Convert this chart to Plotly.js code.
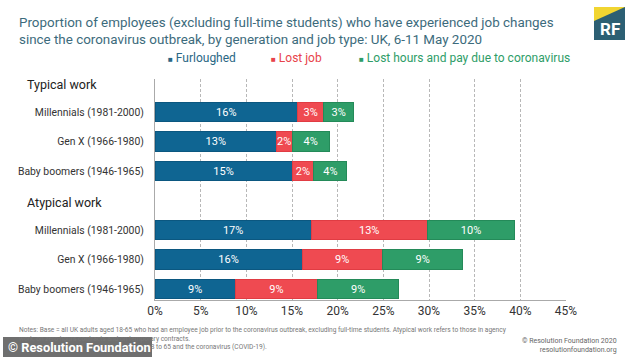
<!DOCTYPE html>
<html>
<head>
<meta charset="utf-8">
<script src="https://cdn.plot.ly/plotly-3.0.1.min.js"></script>
<style>html,body{margin:0;padding:0;background:#fff;}#chart{width:634px;height:357px;}</style>
</head>
<body>
<div id="chart"></div>
<script>
// ---- data ----
const groups = ["Typical work", "Atypical work"];
const generations = ["Millennials (1981-2000)", "Gen X (1966-1980)", "Baby boomers (1946-1965)"];
const seriesNames = ["Furloughed", "Lost job", "Lost hours and pay due to coronavirus"];
const furloughedTypical = [15.6, 13.3, 15.0];
const lostJobTypical = [2.9, 1.7, 2.4];
const lostHoursTypical = [3.2, 4.1, 3.6];
const furloughedAtypical = [17.1, 16.1, 8.8];
const lostJobAtypical = [12.7, 8.8, 9.0];
const lostHoursAtypical = [9.6, 8.8, 8.9];
const xTickVals = [0, 5, 10, 15, 20, 25, 30, 35, 40, 45];
const xTickText = ["0%", "5%", "10%", "15%", "20%", "25%", "30%", "35%", "40%", "45%"];

// ---- styling ----
const colors = ["#0f6592", "#ef4a51", "#2e9d68"];
const lineColors = ["#0b5780", "#e03c43", "#248a59"];
const legendColors = ["#2a6784", "#e8434b", "#2e9d68"];
const FONT = "Roboto, 'Open Sans', sans-serif";

// category keys: header slot then generations, per group
const catOrder = [];
const catText = [];
groups.forEach((g, gi) => {
  catOrder.push("H|" + g); catText.push("");
  generations.forEach(gen => { catOrder.push(gi + "|" + gen); catText.push(gen); });
});
const keysFor = gi => generations.map(gen => gi + "|" + gen);
const yAll = keysFor(0).concat(keysFor(1));

const seriesData = [
  furloughedTypical.concat(furloughedAtypical),
  lostJobTypical.concat(lostJobAtypical),
  lostHoursTypical.concat(lostHoursAtypical)
];

const traces = seriesData.map((vals, i) => ({
  type: "bar",
  orientation: "h",
  name: seriesNames[i],
  y: yAll,
  x: vals,
  text: vals.map(v => Math.round(v) + "%"),
  textposition: "inside",
  insidetextanchor: "middle",
  textangle: 0,
  constraintext: "none",
  textfont: {family: FONT, size: 11, color: "#ffffff"},
  marker: {color: colors[i], line: {color: lineColors[i], width: 1}},
  hoverinfo: "skip",
  showlegend: false
}));

const annotations = [];
// group headers
groups.forEach(g => {
  annotations.push({
    xref: "paper", yref: "y", x: -0.317, y: "H|" + g,
    text: g, showarrow: false, xanchor: "left", yanchor: "middle",
    yshift: -2,
    font: {family: FONT, size: 12.5, color: "#222222"}
  });
});
// custom legend
const legendX = [166, 269, 357];
seriesNames.forEach((n, i) => {
  annotations.push({
    xref: "paper", yref: "paper",
    x: (legendX[i] - 155) / 411, y: 1 + (79 - 58) / 221,
    text: '<span style="font-size:8px">■</span> ' + n, showarrow: false,
    xanchor: "left", yanchor: "middle",
    font: {family: FONT, size: 12, color: legendColors[i]}
  });
});
// title
annotations.push({
  xref: "paper", yref: "paper", x: (17 - 155) / 411, y: 1 + (79 - 13) / 221,
  xanchor: "left", yanchor: "top", align: "left", showarrow: false,
  text: "Proportion of employees (excluding full-time students) who have experienced job changes<br>since the coronavirus outbreak, by generation and job type: UK, 6-11 May 2020",
  font: {family: FONT, size: 13.4, color: "#3c6b7c"}
});
// logo text
annotations.push({
  xref: "paper", yref: "paper", x: (609.5 - 155) / 411, y: 1 + (79 - 29) / 221,
  xanchor: "center", yanchor: "middle", showarrow: false,
  text: "<b>RF</b>", font: {family: FONT, size: 17, color: "#ffffff"}
});
// notes
annotations.push({
  xref: "paper", yref: "paper", x: (17 - 155) / 411, y: -(324 - 300) / 221,
  xanchor: "left", yanchor: "top", align: "left", showarrow: false,
  text: "Notes: Base = all UK adults aged 18-65 who had an employee job prior to the coronavirus outbreak, excluding full-time students. Atypical work refers to those in agency<br>work, on zero-hours contracts and on temporary contracts.<br>Source: RF analysis of YouGov, Adults aged 18 to 65 and the coronavirus (COVID-19).",
  font: {family: FONT, size: 6.6, color: "#777777"}
});
annotations.push({
  xref: "paper", yref: "paper", x: (619 - 155) / 411, y: -(335 - 300) / 221,
  xanchor: "right", yanchor: "top", align: "right", showarrow: false,
  text: "© Resolution Foundation 2020<br>resolutionfoundation.org",
  font: {family: FONT, size: 7, color: "#666666"}
});
// watermark
annotations.push({
  xref: "paper", yref: "paper", x: (6 - 155) / 411, y: -(347 - 300) / 221,
  xanchor: "left", yanchor: "middle", showarrow: false,
  text: "<b>© Resolution Foundation</b>",
  font: {family: "Roboto, sans-serif", size: 12.8, color: "#ffffff"}
});

const px = v => (v - 155) / 411;
const py = v => 1 - (v - 79) / 221;
const shapes = [
  // logo body
  {type: "rect", xref: "paper", yref: "paper", x0: px(594), x1: px(625), y0: py(40), y1: py(7), fillcolor: "#2c5f73", line: {width: 0}, layer: "below"},
  {type: "path", xref: "paper", yref: "paper",
   path: `M ${px(594)} ${py(7)} L ${px(625)} ${py(7)} L ${px(594)} ${py(21)} Z`,
   fillcolor: "#f1d531", line: {width: 0}, layer: "below"},
  // watermark box
  {type: "rect", xref: "paper", yref: "paper", x0: px(3), x1: px(152), y0: py(357), y1: py(337), fillcolor: "rgba(70,70,70,0.78)", line: {width: 0}, layer: "above"}
];

const layout = {
  width: 634, height: 357,
  margin: {l: 155, r: 68, t: 79, b: 57},
  paper_bgcolor: "#ffffff", plot_bgcolor: "#ffffff",
  barmode: "stack",
  bargap: 0.35,
  showlegend: false,
  xaxis: {
    range: [0, 45], tickvals: xTickVals, ticktext: xTickText,
    showgrid: true, gridcolor: "#b8b8b8", griddash: "3px,2px", gridwidth: 1,
    zeroline: false, showline: true, linecolor: "#aaaaaa", linewidth: 1,
    ticks: "", tickfont: {family: FONT, size: 12, color: "#333333"},
    fixedrange: true
  },
  yaxis: {
    type: "category", categoryorder: "array", categoryarray: catOrder,
    tickvals: catOrder, ticktext: catText,
    range: [7.37, -0.12],
    showgrid: false, zeroline: false, showline: true, linecolor: "#aaaaaa", linewidth: 1,
    ticks: "", ticklabelstandoff: 8,
    tickfont: {family: FONT, size: 10.4, color: "#333333"},
    fixedrange: true
  },
  annotations: annotations,
  shapes: shapes,
  uniformtext: {mode: false}
};

Plotly.newPlot("chart", traces, layout, {displayModeBar: false, staticPlot: true});
</script>
</body>
</html>
